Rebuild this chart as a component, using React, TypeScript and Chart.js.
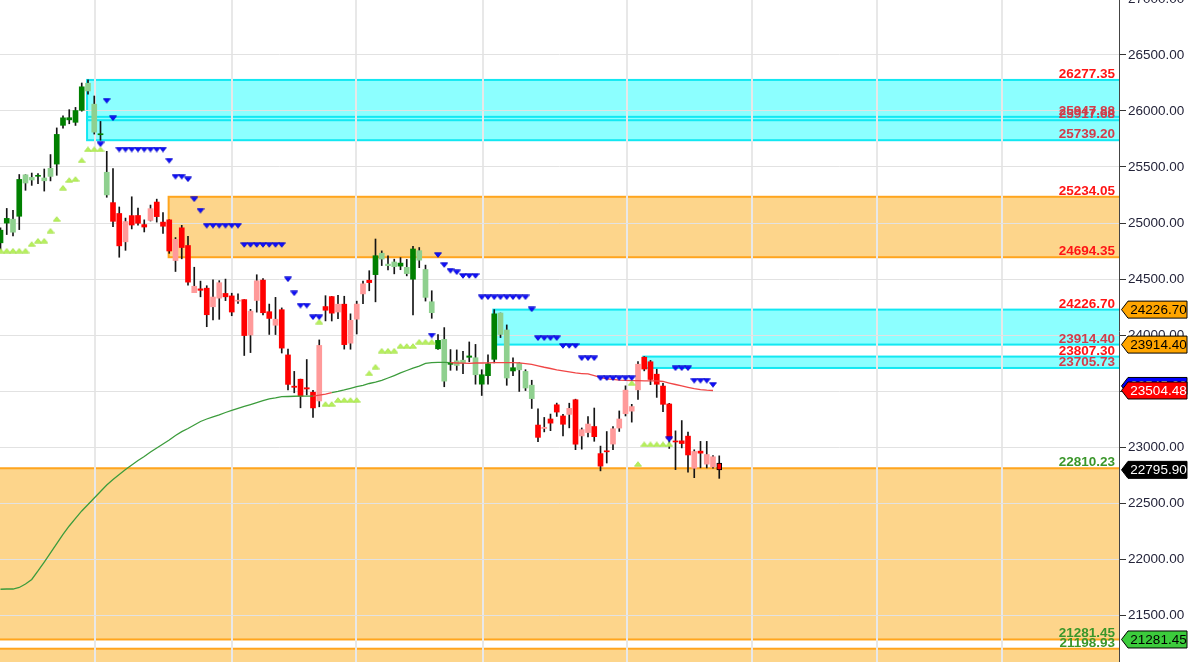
import React, { useEffect, useRef } from "react";
import { Chart, registerables } from "chart.js";

Chart.register(...registerables);

// ---------- DATA ----------
const dates = [
  "2024-09-09","2024-09-10","2024-09-11","2024-09-12","2024-09-13","2024-09-16","2024-09-17","2024-09-18","2024-09-19","2024-09-20",
  "2024-09-23","2024-09-24","2024-09-25","2024-09-26","2024-09-27","2024-09-30","2024-10-01","2024-10-03","2024-10-04","2024-10-07",
  "2024-10-08","2024-10-09","2024-10-10","2024-10-11","2024-10-14","2024-10-15","2024-10-16","2024-10-17","2024-10-18","2024-10-21",
  "2024-10-22","2024-10-23","2024-10-24","2024-10-25","2024-10-28","2024-10-29","2024-10-30","2024-10-31","2024-11-01","2024-11-04",
  "2024-11-05","2024-11-06","2024-11-07","2024-11-08","2024-11-11","2024-11-12","2024-11-13","2024-11-14","2024-11-18","2024-11-19",
  "2024-11-21","2024-11-22","2024-11-25","2024-11-26","2024-11-27","2024-11-28","2024-11-29","2024-12-02","2024-12-03","2024-12-04",
  "2024-12-05","2024-12-06","2024-12-09","2024-12-10","2024-12-11","2024-12-12","2024-12-13","2024-12-16","2024-12-17","2024-12-18",
  "2024-12-19","2024-12-20","2024-12-23","2024-12-24","2024-12-26","2024-12-27","2024-12-30","2024-12-31","2025-01-01","2025-01-02",
  "2025-01-03","2025-01-06","2025-01-07","2025-01-08","2025-01-09","2025-01-10","2025-01-13","2025-01-14","2025-01-15","2025-01-16",
  "2025-01-17","2025-01-20","2025-01-21","2025-01-22","2025-01-23","2025-01-24","2025-01-27","2025-01-28","2025-01-29","2025-01-30",
  "2025-01-31","2025-02-03","2025-02-04","2025-02-05","2025-02-06","2025-02-07","2025-02-10","2025-02-11","2025-02-12","2025-02-13",
  "2025-02-14","2025-02-17","2025-02-18","2025-02-19","2025-02-20","2025-02-21"
];

const openP = [
  24823,24999,25034,25060,25430,25407,25417,25402,25488,25526,
  25872,25921,25899,26006,26248,26061,25788,25453,25182,25085,
  24832,25066,25067,24986,25023,25187,25008,25028,24665,24957,
  24799,24378,24412,24418,24252,24329,24371,24349,24302,24316,
  24000,24308,24490,24208,24087,24226,23822,23543,23605,23529,
  23489,23411,24254,24343,24205,24275,23927,24141,24367,24489,
  24539,24730,24633,24652,24615,24604,24498,24753,24585,24297,
  23877,23961,23738,23769,23775,23801,23797,23561,23637,23783,
  24196,24045,23679,23747,23675,23552,23196,23165,23250,23377,
  23277,23291,23422,23099,23129,23183,22941,22961,23026,23169,
  23297,23320,23510,23802,23761,23650,23544,23384,23050,23055,
  23097,22810,22963,22847,22822,22857
];
const highP = [
  24957,25130,25114,25433,25431,25446,25441,25482,25611,25849,
  25956,26012,26032,26250,26277.35,26134,25907,25640,25486,25143,
  25044,25234.05,25134,25028,25160,25213,25093,25029,24870,24979,
  24882,24605,24481,24440,24493,24485,24499,24373,24368,24316,
  24229,24538,24504,24276,24336,24242,23874,23675,23606,23781,
  23507,23956,24351,24344,24354,24346,24189,24302,24481,24574,
  24857,24751,24706,24677,24691,24675,24792,24781,24624,24395,
  24004,24066,23870,23867,23854,23938,23916,23690,23822,24226.7,
  24196,24090,23796,23752,23690,23596,23341,23264,23294,23392,
  23292,23391,23427,23170,23271,23348,23008,23138,23183,23322,
  23546,23381,23762,23807.3,23773,23695,23568,23390,23144,23236,
  23133,22975,23050,23050,22923,22921
];
const lowP = [
  24753,24897,24885,24941,25292,25336,25352,25285,25376,25426,
  25847,25886,25871,25998,26151,25794,25739.2,25230,24967,24694.35,
  24756,24947,24980,24920,25018,25008,24908,24729,24567,24680,
  24446,24378,24341,24074,24135,24140,24307,24172,24281,23817,
  23843,24204,24179,24005,24004,23839,23509,23484,23350,23465,
  23263,23359,24126,24125,24145,23874,23873,24009,24280,24395,
  24296,24620,24580,24546,24583,24528,24180,24601,24303,24149,
  23871,23538,23685,23685,23654,23761,23561,23460,23562,23751,
  23977,23551,23637,23496,23504,23344,23048,23135,23146,23273,
  23100,23171,22976,22981,23090,23051,22787,22857,22976,23139,
  23277,23222,23424,23680,23557,23443,23316,22987,22798,22992,
  22775,22726,22814,22813,22812,22720
];
const closeP = [
  24936,25041,24918,25389,25357,25384,25418,25377,25416,25791,
  25939,25940,26004,26216,26179,25811,25797,25251,25015,24796,
  25013,24982,24998,24964,25128,25057,24971,24750,24854,24781,
  24472,24435,24399,24181,24339,24467,24341,24205,24304,23995,
  24213,24484,24199,24148,24141,23883,23559,23533,23453,23518,
  23349,23907,24221,24195,24275,23914,24131,24276,24457,24468,
  24708,24678,24619,24610,24642,24548,24768,24668,24336,24199,
  23952,23588,23753,23728,23751,23813,23645,23645,23743,24189,
  24005,23616,23708,23689,23527,23432,23086,23176,23213,23312,
  23203,23345,23025,23155,23205,23092,22829,22957,23163,23250,
  23508,23361,23739,23696,23603,23560,23381,23072,23045,23031,
  22929,22960,22945,22933,22913,22795.9
];

// trend state runs: [state, number of bars]
const trendRuns: [string, number][] = [["G", 18], ["R", 42], ["G", 26], ["R", 30]];

// long moving average (index 0..114)
const maValues = [
  21730,21732,21732,21746,21777,21817,21893,21973,22054,22138,
  22219,22295,22362,22429,22487,22545,22603,22661,22710,22754,
  22799,22839,22879,22915,22955,22991,23027,23063,23103,23137,
  23165,23196,23228,23250,23268,23286,23308,23326,23344,23362,
  23379,23397,23413,23429,23438,23449,23451,23453,23454,23455,
  23455,23464,23473,23485,23496,23509,23524,23538,23551,23567,
  23580,23595,23616,23638,23661,23683,23705,23723,23747,23753,
  23755,23755,23753,23750,23748,23747,23750,23750,23752,23753,
  23753,23753,23753,23752,23745,23737,23725,23712,23701,23689,
  23679,23670,23661,23656,23652,23638,23621,23609,23603,23598,
  23595,23593,23592,23591,23591,23590,23585,23571,23558,23545,
  23533,23522,23513,23507,23504.48
];
// red segments of the average: [startIndex, endIndex]
const maRedRuns: [number, number][] = [[50, 53], [72, 114]];

// trailing stop markers: [startIndex, count, value]
const stopDown: [number, number, number][] = [
  [16,1,25703],[17,1,26092],[18,1,25935],[19,8,25656],[27,1,25556],[28,2,25413],[30,1,25390],
  [31,1,25212],[32,1,25110],[33,6,24976],[39,7,24804],[46,1,24497],[47,1,24372],[48,2,24262],
  [50,2,24158],[69,1,23995],[70,1,24714],[71,1,24625],[72,1,24574],[73,1,24560],[74,3,24527],
  [77,8,24337],[85,1,24229],[86,4,23971],[90,3,23902],[93,3,23792],[96,6,23614],[107,1,23069],
  [108,3,23703],[111,3,23592],[114,1,23555]
];
const stopUp: [number, number, number][] = [
  [0,5,24753],[5,1,24812],[6,2,24842],[8,1,24931],[9,1,25036],[10,1,25315],[11,1,25384],
  [12,1,25393],[13,1,25560],[14,3,25658],[51,1,24119],[52,2,23384],[54,4,23420],[59,1,23658],
  [60,1,23717],[61,3,23860],[64,3,23902],[67,3,23940],[101,1,23571],[102,1,22848],[103,5,23024]
];

// zones
const zoneTop = [26277.35, 25947.88, 25234.05, 24226.70, 23807.30, 22810.23, 21198.93];
const zoneBottom = [25917.68, 25739.20, 24694.35, 23914.40, 23705.73, 21281.45, 20800];
const zoneStart = [13.85, 13.85, 26.9, 78.85, 102.85, -2, -2];
const zoneKind = ["c", "c", "o", "c", "c", "o", "o"];

// level labels
const levelValues = [26277.35, 25947.88, 25917.68, 25739.20, 25234.05, 24694.35, 24226.70, 23914.40, 23807.30, 23705.73, 22810.23, 21281.45, 21198.93];
const levelKind = ["r", "d", "d", "d", "r", "r", "r", "d", "r", "d", "g", "g", "g"];

// right-axis price tags
const tagValues = [24226.70, 23914.40, 23545.00, 23504.48, 22795.90, 21281.45];
const tagFill = ["#ffa500", "#ffa500", "#0000ff", "#ff0000", "#000000", "#3ccc3c"];
const tagTextColor = ["#000000", "#000000", "#ffffff", "#ffffff", "#ffffff", "#000000"];

const yTicks = [21500, 22000, 22500, 23000, 23500, 24000, 24500, 25000, 25500, 26000, 26500, 27000];
const monthLines = [15.12, 37.04, 56.88, 77.2, 100.24, 120.24, 140.24, 160.24];

// ---------- helpers ----------
const X_MIN = -0.08;
const X_MAX = 178.96;
const Y_MAX = 26991.07;
const Y_MIN = 21080.36;

function expandRuns(runs: [string, number][]) {
  const out: string[] = [];
  runs.forEach(([s, n]) => { for (let k = 0; k < n; k++) out.push(s); });
  return out;
}
function expandMarks(marks: [number, number, number][]) {
  const out: { x: number; y: number }[] = [];
  marks.forEach(([s, n, v]) => { for (let k = 0; k < n; k++) out.push({ x: s + k, y: v }); });
  return out;
}
function makeTri(color: string, edge: string, down: boolean) {
  const c = document.createElement("canvas");
  c.width = 8; c.height = 6;
  const g = c.getContext("2d")!;
  g.fillStyle = color;
  g.strokeStyle = edge;
  g.lineWidth = 0.8;
  g.beginPath();
  if (down) { g.moveTo(0.5, 0.8); g.lineTo(7.5, 0.8); g.lineTo(4, 5.3); }
  else { g.moveTo(4, 0.7); g.lineTo(7.5, 5.2); g.lineTo(0.5, 5.2); }
  g.closePath();
  g.fill();
  g.stroke();
  return c;
}
function noPad(s: any) {
  s.paddingLeft = 0; s.paddingRight = 0; s.paddingTop = 0; s.paddingBottom = 0;
}

const FONT = "'Liberation Sans', Arial, sans-serif";

const zonePlugin = {
  id: "zones",
  beforeDraw(chart: any) {
    const { ctx, chartArea, scales } = chart;
    const xs = scales.x, ys = scales.y;
    ctx.save();
    ctx.beginPath();
    ctx.rect(chartArea.left, chartArea.top, chartArea.right - chartArea.left, chartArea.bottom - chartArea.top);
    ctx.clip();
    for (let i = 0; i < zoneTop.length; i++) {
      const x0 = xs.getPixelForValue(zoneStart[i]);
      const x1 = chartArea.right + 5;
      const yT = ys.getPixelForValue(zoneTop[i]);
      const yB = ys.getPixelForValue(zoneBottom[i]);
      ctx.fillStyle = zoneKind[i] === "c" ? "#8cffff" : "#fdd58b";
      ctx.fillRect(x0, yT, x1 - x0, yB - yT);
    }
    for (let i = 0; i < zoneTop.length; i++) {
      const x0 = xs.getPixelForValue(zoneStart[i]);
      const x1 = chartArea.right + 5;
      const yT = ys.getPixelForValue(zoneTop[i]);
      const yB = ys.getPixelForValue(zoneBottom[i]);
      ctx.strokeStyle = zoneKind[i] === "c" ? "#12e8f2" : "#ffa51e";
      ctx.lineWidth = 2;
      ctx.strokeRect(x0, yT, x1 - x0, yB - yT);
    }
    ctx.restore();
  },
};

const overlayPlugin = {
  id: "overlay",
  afterDraw(chart: any) {
    const { ctx, chartArea, scales } = chart;
    const ys = scales.y;
    ctx.save();
    // level labels
    ctx.font = `bold 13.5px ${FONT}`;
    ctx.textAlign = "right";
    ctx.textBaseline = "alphabetic";
    for (let i = 0; i < levelValues.length; i++) {
      const y = ys.getPixelForValue(levelValues[i]);
      const k = levelKind[i];
      ctx.fillStyle = k === "r" ? "#ff1414" : k === "d" ? "#d23c4a" : "#3a962a";
      ctx.fillText(levelValues[i].toFixed(2), chartArea.right - 4, y - 2);
    }
    // price tags
    const tip = chartArea.right + 2.5;
    const bx0 = chartArea.right + 9;
    const bx1 = chartArea.right + 68;
    const h = 8.5;
    ctx.font = `13.5px ${FONT}`;
    ctx.textAlign = "center";
    ctx.textBaseline = "middle";
    for (let i = 0; i < tagValues.length; i++) {
      const yc = ys.getPixelForValue(tagValues[i]);
      ctx.beginPath();
      ctx.moveTo(tip, yc);
      ctx.lineTo(bx0, yc - h);
      ctx.lineTo(bx1, yc - h);
      ctx.lineTo(bx1, yc + h);
      ctx.lineTo(bx0, yc + h);
      ctx.closePath();
      ctx.fillStyle = tagFill[i];
      ctx.fill();
      ctx.strokeStyle = "#000";
      ctx.lineWidth = 1;
      ctx.stroke();
      ctx.fillStyle = tagTextColor[i];
      ctx.fillText(tagValues[i].toFixed(2), (bx0 + bx1) / 2 + 1, yc + 0.5);
    }
    ctx.restore();
  },
};

export default function App() {
  const ref = useRef<HTMLCanvasElement | null>(null);

  useEffect(() => {
    document.body.style.margin = "0";
    const canvas = ref.current;
    if (!canvas) return;

    const trend = expandRuns(trendRuns);
    const bodyColors = dates.map((_, i) => {
      const up = closeP[i] >= openP[i];
      if (trend[i] === "G") return up ? "#008000" : "#8fd08f";
      return up ? "#ff9a9a" : "#ff0000";
    });
    const bodyBorder = dates.map((_, i) => (i === dates.length - 1 ? 1 : 0));

    const wickData = dates.map((_, i) => ({ x: i, y: [lowP[i], highP[i]] }));
    const bodyData = dates.map((_, i) => ({ x: i, y: [Math.min(openP[i], closeP[i]), Math.max(openP[i], closeP[i])] }));
    const maData = maValues.map((v, i) => ({ x: i, y: v }));
    const isRed = (i: number) => maRedRuns.some(([a, b]) => i >= a && i < b);

    const triDown = makeTri("#1010ff", "#0000c8", true);
    const triUp = makeTri("#b8f25c", "#a6e04c", false);

    const chart = new Chart(canvas, {
      type: "bar",
      data: {
        datasets: [
          {
            type: "line",
            data: expandMarks(stopDown),
            showLine: false,
            pointStyle: triDown,
            pointRadius: 3,
            pointHoverRadius: 3,
            order: 1,
          } as any,
          {
            type: "line",
            data: expandMarks(stopUp),
            showLine: false,
            pointStyle: triUp,
            pointRadius: 3,
            pointHoverRadius: 3,
            order: 2,
          } as any,
          {
            type: "line",
            data: maData,
            borderWidth: 1.3,
            pointRadius: 0,
            borderColor: "#3c9c3c",
            segment: {
              borderColor: (c: any) => (isRed(c.p0DataIndex) ? "#f04646" : "#3c9c3c"),
            },
            tension: 0,
            order: 3,
          } as any,
          {
            type: "bar",
            data: bodyData,
            backgroundColor: bodyColors,
            borderColor: "#000000",
            borderWidth: bodyBorder,
            borderSkipped: false,
            barThickness: 5,
            minBarLength: 1,
            grouped: false,
            order: 4,
          } as any,
          {
            type: "bar",
            data: wickData,
            backgroundColor: "#151515",
            barThickness: 1,
            minBarLength: 1,
            grouped: false,
            order: 5,
          } as any,
        ],
      },
      options: {
        animation: false,
        responsive: false,
        maintainAspectRatio: false,
        events: [],
        layout: { padding: 0, autoPadding: false },
        plugins: { legend: { display: false }, tooltip: { enabled: false } },
        scales: {
          x: {
            type: "linear",
            min: X_MIN,
            max: X_MAX,
            bounds: "data",
            offset: false,
            display: true,
            grid: { offset: false, color: "#e8e8e8", lineWidth: 2, drawTicks: false },
            border: { display: false },
            ticks: { display: false },
            afterBuildTicks: (s: any) => { s.ticks = monthLines.map((v) => ({ value: v })); },
            afterFit: (s: any) => { s.height = 0; noPad(s); },
          },
          y: {
            type: "linear",
            position: "right",
            min: Y_MIN,
            max: Y_MAX,
            bounds: "data",
            grid: { color: "#e2e2e2", lineWidth: 1, tickLength: 7, tickColor: "#333333" },
            border: { color: "#444444", width: 1 },
            ticks: {
              color: "#24243a",
              font: { family: FONT, size: 13.5 },
              padding: 2,
              autoSkip: false,
              callback: (v: any) => Number(v).toFixed(2),
            },
            afterBuildTicks: (s: any) => { s.ticks = yTicks.map((v) => ({ value: v })); },
            afterFit: (s: any) => { s.width = 83; noPad(s); },
          },
        },
      } as any,
      plugins: [zonePlugin, overlayPlugin],
    });

    return () => chart.destroy();
  }, []);

  return (
    <div style={{ width: 1202, height: 662, background: "#ffffff" }}>
      <canvas ref={ref} width={1202} height={662} style={{ display: "block" }} />
    </div>
  );
}
